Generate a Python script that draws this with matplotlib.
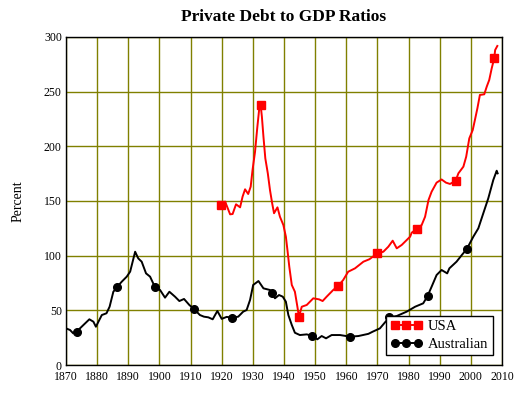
import matplotlib
matplotlib.use("Agg")
import matplotlib.pyplot as plt
import numpy as np

# ---- data ----
aus_years = [1870.0, 1871.3, 1872.3, 1873.4, 1875.6, 1877.5, 1878.8, 1879.6, 1881.5, 1883.0,
             1884.0, 1885.2, 1886.3, 1887.9, 1889.5, 1890.6, 1891.4, 1892.2, 1893.2, 1894.3,
             1895.7, 1897.0, 1898.6, 1900.2, 1901.8, 1903.2, 1905.0, 1906.4, 1907.9, 1909.6,
             1911.1, 1913.0, 1914.3, 1915.7, 1917.1, 1918.6, 1920.0, 1921.6, 1923.4, 1925.3,
             1926.9, 1928.0, 1929.1, 1930.1, 1931.8, 1933.4, 1935.5, 1936.1, 1937.1, 1938.4,
             1939.6, 1940.6, 1941.4, 1942.5, 1943.5, 1945.1, 1947.3, 1948.9, 1950.7, 1952.1,
             1953.5, 1955.3, 1958.0, 1961.2, 1963.9, 1967.1, 1968.5, 1970.8, 1973.8, 1976.2,
             1979.4, 1982.1, 1984.7, 1986.1, 1987.4, 1989.0, 1990.6, 1992.4, 1993.1, 1995.4,
             1997.1, 1998.7, 2000.8, 2002.4, 2004.0, 2005.6, 2007.2, 2008.3, 2008.6]
aus_values = [33.5, 32.0, 29.0, 30.5, 36.6, 41.8, 39.6, 35.0, 45.7, 47.3,
              53.3, 67.0, 71.0, 76.2, 80.8, 85.4, 94.5, 103.6, 97.5, 94.5,
              83.8, 80.8, 71.0, 68.6, 61.6, 67.0, 62.5, 58.5, 60.4, 54.9,
              51.2, 45.7, 44.2, 43.6, 41.8, 49.4, 42.2, 44.0, 43.3, 44.2,
              48.8, 50.3, 59.5, 73.2, 76.8, 70.1, 68.6, 65.6, 61.0, 64.0,
              62.5, 57.9, 45.7, 36.6, 29.5, 27.4, 28.0, 26.8, 23.5, 26.5,
              24.4, 27.4, 27.4, 25.9, 26.5, 28.5, 30.5, 33.5, 43.6, 44.8,
              48.8, 53.3, 56.4, 63.1, 71.6, 82.3, 86.9, 83.8, 88.4, 94.5,
              100.6, 106.1, 117.4, 125.0, 138.8, 152.5, 169.2, 177.7, 175.3]
aus_marker_years = [1873.4, 1886.3, 1898.6, 1911.1, 1923.4, 1936.1, 1948.9, 1961.2,
                    1973.8, 1986.1, 1998.7]

usa_years = [1919.7, 1921.1, 1922.7, 1923.5, 1924.6, 1925.9, 1926.7, 1927.5, 1928.5, 1929.3,
             1929.9, 1930.7, 1931.4, 1932.0, 1932.5, 1932.9, 1933.4, 1934.0, 1934.8, 1935.5,
             1936.2, 1936.8, 1937.9, 1938.7, 1939.8, 1940.6, 1941.1, 1941.7, 1942.5, 1943.5,
             1944.3, 1944.8, 1945.7, 1947.3, 1949.4, 1951.3, 1952.4, 1953.7, 1955.8, 1957.4,
             1959.0, 1960.6, 1962.8, 1965.5, 1967.4, 1970.0, 1971.9, 1973.5, 1974.9, 1976.2,
             1977.8, 1979.4, 1980.5, 1981.0, 1982.6, 1984.2, 1985.3, 1986.4, 1987.4, 1989.0,
             1990.6, 1992.0, 1993.3, 1995.1, 1996.0, 1997.6, 1998.5, 1999.5, 2000.6, 2001.3,
             2002.1, 2002.9, 2004.3, 2005.1, 2005.9, 2006.7, 2007.5, 2007.8, 2008.5]
usa_values = [146.3, 149.4, 137.8, 138.1, 147.0, 144.2, 154.0, 160.7, 156.4, 163.1,
              178.4, 195.1, 216.5, 233.2, 237.8, 227.1, 208.8, 189.0, 175.3, 160.0,
              147.9, 138.8, 144.2, 135.6, 128.0, 117.4, 105.2, 89.9, 73.2, 67.0,
              53.3, 44.2, 53.3, 54.9, 61.0, 60.0, 58.5, 62.5, 68.6, 72.3,
              77.7, 85.3, 88.4, 94.5, 96.7, 102.1, 103.6, 108.2, 113.7, 106.7,
              109.8, 114.3, 117.4, 121.0, 124.4, 128.0, 135.6, 150.9, 158.5, 166.8,
              169.7, 166.8, 165.6, 168.4, 175.3, 181.4, 190.5, 207.3, 214.9, 224.1,
              234.8, 247.0, 247.6, 254.6, 260.7, 271.4, 280.5, 288.1, 291.8]
usa_marker_years = [1919.7, 1932.5, 1944.8, 1957.4, 1970.0, 1982.6, 1995.1, 2007.5]

title = "Private Debt to GDP Ratios"
ylabel = "Percent"
xticks = list(range(1870, 2011, 10))
yticks = [0, 50, 100, 150, 200, 250, 300]

# ---- plot ----
plt.rcParams['font.family'] = ['Liberation Serif', 'DejaVu Serif']
fig = plt.figure(figsize=(5.23, 3.95), dpi=100)
ax = fig.add_axes([66/523, 30/395, 436/523, 328/395])

usa_mk = [usa_years.index(y) for y in usa_marker_years]
aus_mk = [aus_years.index(y) for y in aus_marker_years]

ax.plot(usa_years, usa_values, color='#ff0000', lw=1.4, marker='s', ms=5.5,
        markevery=usa_mk, label='USA', zorder=3)
ax.plot(aus_years, aus_values, color='black', lw=1.4, marker='o', ms=5.5,
        markevery=aus_mk, label='Australian', zorder=3)

ax.set_xlim(1870, 2010)
ax.set_ylim(0, 300)
ax.set_xticks(xticks)
ax.set_yticks(yticks)
ax.tick_params(length=0, labelsize=8.5)
ax.tick_params(axis='x', pad=4.5)
ax.tick_params(axis='y', pad=3)
ax.grid(True, color='#808000', lw=1.0)
ax.set_axisbelow(True)
for s in ax.spines.values():
    s.set_linewidth(1.0)
    s.set_color('black')

ax.set_ylabel(ylabel, fontsize=10, labelpad=14)
fig.text(284/523, 1 - 17/395, title, ha='center', va='center',
         fontsize=12.5, fontweight='bold')

leg = ax.legend(loc='lower right', bbox_to_anchor=(0.979, 0.03), numpoints=3,
                handlelength=2.2, fontsize=10.5, frameon=True, fancybox=False,
                edgecolor='black', framealpha=1, borderpad=0.3, labelspacing=0.3,
                handletextpad=0.4, borderaxespad=0)
leg.get_frame().set_linewidth(1.0)

fig.savefig('out.png', dpi=100)
